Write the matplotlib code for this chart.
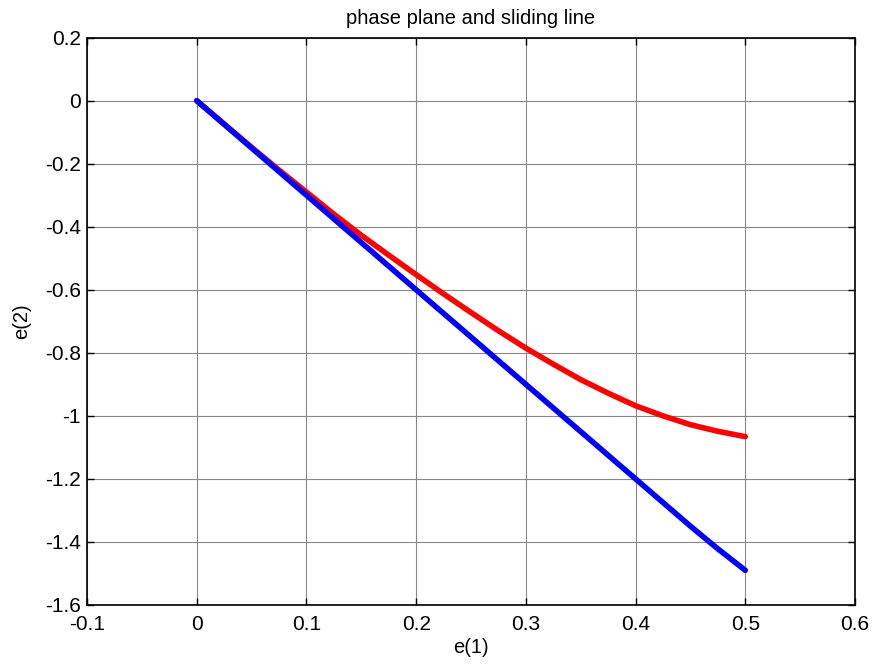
import matplotlib
matplotlib.use('Agg')
import matplotlib.pyplot as plt
import numpy as np

plt.rcParams['font.family'] = ['Liberation Sans', 'DejaVu Sans']

# e(1) samples and the two trajectories
e1 = [0, 0.025, 0.05, 0.075, 0.1, 0.125, 0.15, 0.175, 0.2, 0.225, 0.25,
      0.275, 0.3, 0.325, 0.35, 0.375, 0.4, 0.425, 0.45, 0.475, 0.5]
e2_state = [0, -0.074, -0.148, -0.22, -0.29, -0.36, -0.427, -0.49, -0.552, -0.613, -0.672,
            -0.73, -0.785, -0.836, -0.885, -0.928, -0.968, -1.0, -1.028, -1.049, -1.066]
e2_line = [0, -0.075, -0.15, -0.225, -0.30, -0.375, -0.45, -0.525, -0.60, -0.675, -0.75,
           -0.825, -0.90, -0.975, -1.05, -1.125, -1.20, -1.275, -1.35, -1.422, -1.49]

xticks = [-0.1, 0, 0.1, 0.2, 0.3, 0.4, 0.5, 0.6]
yticks = [0.2, 0, -0.2, -0.4, -0.6, -0.8, -1, -1.2, -1.4, -1.6]
xlabels = ['-0.1', '0', '0.1', '0.2', '0.3', '0.4', '0.5', '0.6']
ylabels = ['0.2', '0', '-0.2', '-0.4', '-0.6', '-0.8', '-1', '-1.2', '-1.4', '-1.6']

fig = plt.figure(figsize=(8.73, 6.69), dpi=100)
ax = fig.add_axes([0.0997, 0.0957, 0.8797, 0.848])

ax.plot(e1, e2_state, color='red', lw=4, solid_capstyle='round')
ax.plot(e1, e2_line, color='blue', lw=4, solid_capstyle='round')

ax.set_xlim(-0.1, 0.6)
ax.set_ylim(-1.6, 0.2)
ax.set_xticks(xticks)
ax.set_yticks(yticks)
ax.set_xticklabels(xlabels)
ax.set_yticklabels(ylabels)
ax.tick_params(direction='in', top=True, right=True, labelsize=15, length=5, width=1)
ax.tick_params(axis='x', pad=7)
ax.tick_params(axis='y', pad=4.5)
ax.grid(True, color='#888888', lw=0.8)
for s in ax.spines.values():
    s.set_linewidth(1.2)

ax.set_title('phase plane and sliding line', fontsize=14.5, pad=9.5)
ax.set_xlabel('e(1)', fontsize=14.5, labelpad=3)
ax.set_ylabel('e(2)', fontsize=14.5, labelpad=10)

fig.savefig('out.png', dpi=100)
